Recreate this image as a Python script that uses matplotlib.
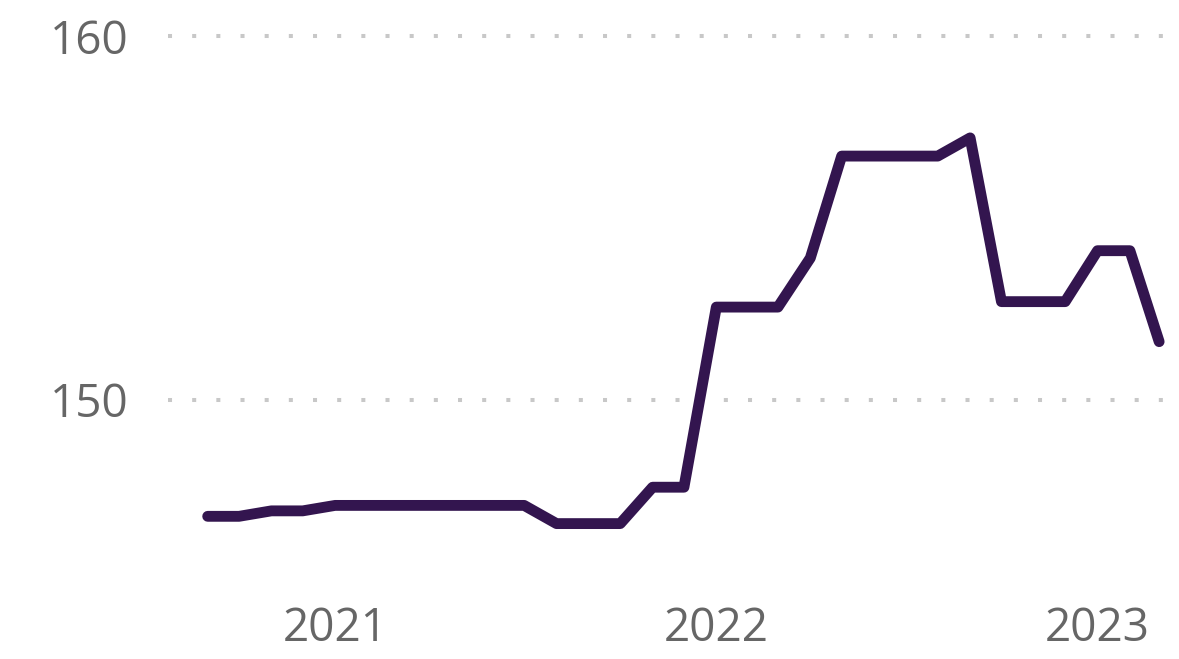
import numpy as np
import pandas as pd
import matplotlib.pyplot as plt
import matplotlib.dates as mdates

# monthly values, Sep 2020 - Mar 2023
months = pd.date_range("2020-09-01", "2023-03-01", freq="MS")
values = [146.8, 146.8, 146.95, 146.95,
          147.1, 147.1, 147.1, 147.1, 147.1, 147.1, 147.1,
          146.6, 146.6, 146.6, 147.6, 147.6,
          152.55, 152.55, 152.55, 153.9, 156.7, 156.7, 156.7, 156.7,
          157.2, 152.7, 152.7, 152.7,
          154.1, 154.1, 151.6]
yticks = [150, 160]
xtick_years = ["2021", "2022", "2023"]

plt.rcParams['font.family'] = ['Open Sans', 'DejaVu Sans']

fig = plt.figure(figsize=(11.79, 6.59), dpi=100)
ax = fig.add_axes([168 / 1179, 79 / 659, 1 - 168 / 1179, 560 / 659])

ax.plot(months, values, color="#33154f", lw=7.8,
        solid_capstyle="round", solid_joinstyle="round")

ax.set_ylim(145.05, 160.44)
ax.set_xlim(pd.Timestamp("2020-07-25"), pd.Timestamp("2023-03-20"))

ax.set_yticks(yticks)
ax.set_xticks([pd.Timestamp(y + "-01-01") for y in xtick_years])
ax.set_xticklabels(xtick_years)

ax.grid(axis="y", color="#c8c8c8", lw=2.9, linestyle=(0, (1, 5)))
ax.set_axisbelow(True)
for s in ax.spines.values():
    s.set_visible(False)
ax.tick_params(length=0, labelsize=33, labelcolor="#666666")
ax.tick_params(axis="y", pad=28)
ax.tick_params(axis="x", pad=19)

fig.savefig("out.png", dpi=100)
